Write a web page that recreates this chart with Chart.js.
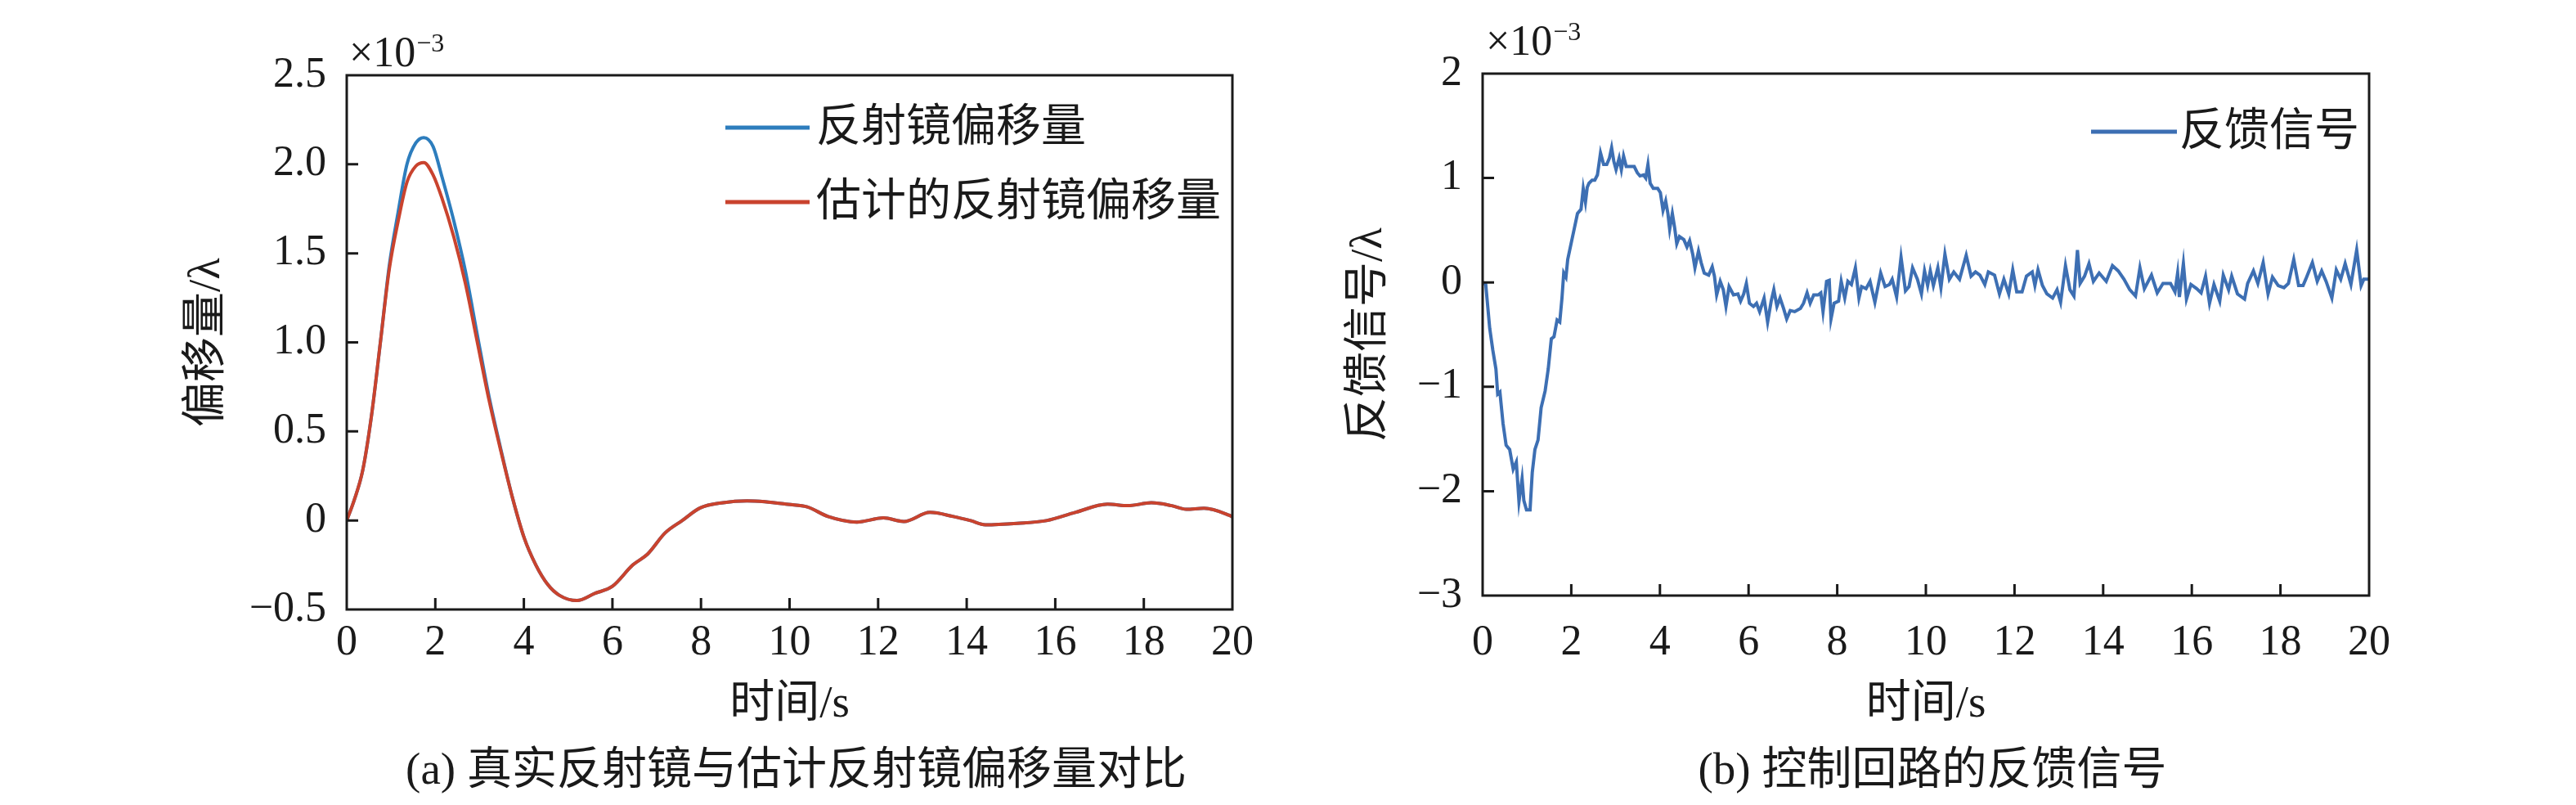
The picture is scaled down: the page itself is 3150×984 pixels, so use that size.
<!DOCTYPE html>
<html>
<head>
<meta charset="utf-8">
<script src="https://cdn.jsdelivr.net/npm/chart.js@4.4.1/dist/chart.umd.min.js"></script>
<style>
  html, body { margin: 0; padding: 0; background: #ffffff; }
  #wrap { position: relative; width: 3150px; height: 984px; overflow: hidden; background: #fff; }
  canvas { position: absolute; top: 0; }
  #c1 { left: 0; }
  #c2 { left: 1575px; }
</style>
</head>
<body>
<div id="wrap">
  <canvas id="c1" width="1575" height="984"></canvas>
  <canvas id="c2" width="1575" height="984"></canvas>
</div>
<script>
// ---------------- DATA (values in units of 1e-3) ----------------
const timeA = [0, 0.17, 0.36, 0.56, 0.76, 0.96, 1.16, 1.36, 1.56, 1.74, 1.95, 2.15, 2.42, 2.68, 2.95, 3.21, 3.48, 3.74, 4.01, 4.27, 4.54, 4.8, 5.2, 5.6, 6.0, 6.46, 6.79, 7.19, 7.58, 7.98, 8.5, 9.04, 9.44, 9.97, 10.4, 10.87, 11.52, 12.12, 12.58, 13.17, 13.7, 14.09, 14.42, 15.14, 15.8, 16.45, 17.18, 17.64, 18.17, 18.63, 18.96, 19.36, 19.92, 20];
const trueOffset = [0, 0.115, 0.28, 0.59, 1.0, 1.43, 1.73, 2.0, 2.12, 2.15, 2.10, 1.93, 1.68, 1.40, 1.04, 0.70, 0.40, 0.13, -0.10, -0.25, -0.36, -0.42, -0.45, -0.41, -0.37, -0.25, -0.19, -0.07, 0.0, 0.07, 0.10, 0.11, 0.105, 0.09, 0.076, 0.022, -0.009, 0.014, -0.006, 0.045, 0.022, -0.001, -0.024, -0.016, -0.001, 0.045, 0.091, 0.083, 0.099, 0.083, 0.063, 0.068, 0.03, 0.02];
const estOffset = [0, 0.115, 0.28, 0.59, 1.0, 1.41, 1.68, 1.9, 1.99, 2.01, 1.94, 1.81, 1.59, 1.33, 1.0, 0.68, 0.39, 0.13, -0.10, -0.25, -0.36, -0.42, -0.45, -0.41, -0.37, -0.25, -0.19, -0.07, 0.0, 0.07, 0.10, 0.11, 0.105, 0.09, 0.076, 0.022, -0.009, 0.014, -0.006, 0.045, 0.022, -0.001, -0.024, -0.016, -0.001, 0.045, 0.091, 0.083, 0.099, 0.083, 0.063, 0.068, 0.03, 0.02];

const timeB = [0, 0.07, 0.16, 0.23, 0.30, 0.34, 0.39, 0.46, 0.53, 0.61, 0.69, 0.76, 0.82, 0.89, 0.93, 0.99, 1.07, 1.12, 1.18, 1.25, 1.32, 1.41, 1.48, 1.55, 1.61, 1.68, 1.74, 1.79, 1.83, 1.88, 1.92, 2.01, 2.07, 2.14, 2.22, 2.27, 2.32, 2.36, 2.40, 2.47, 2.53, 2.59, 2.66, 2.73, 2.80, 2.86, 2.91, 2.96, 3.01, 3.08, 3.13, 3.18, 3.24, 3.32, 3.42, 3.49, 3.55, 3.63, 3.68, 3.73, 3.78, 3.85, 3.95, 4.01, 4.07, 4.13, 4.18, 4.22, 4.28, 4.33, 4.38, 4.44, 4.54, 4.61, 4.67, 4.74, 4.79, 4.87, 4.93, 5.00, 5.10, 5.18, 5.23, 5.28, 5.36, 5.43, 5.49, 5.56, 5.66, 5.76, 5.82, 5.89, 5.95, 6.02, 6.11, 6.18, 6.25, 6.35, 6.43, 6.51, 6.57, 6.64, 6.71, 6.79, 6.86, 6.94, 7.04, 7.17, 7.24, 7.32, 7.39, 7.47, 7.57, 7.63, 7.68, 7.76, 7.82, 7.86, 7.93, 8.03, 8.09, 8.17, 8.24, 8.32, 8.41, 8.49, 8.55, 8.65, 8.74, 8.85, 8.98, 9.08, 9.18, 9.24, 9.34, 9.44, 9.54, 9.62, 9.70,
  9.81, 9.90, 9.97, 10.04, 10.10, 10.17, 10.27, 10.34, 10.43, 10.53, 10.63, 10.76, 10.91, 11.02, 11.12, 11.22, 11.33, 11.41, 11.55, 11.66, 11.76, 11.87, 11.96, 12.05, 12.17, 12.27, 12.40, 12.46, 12.53, 12.63, 12.73, 12.86, 12.96, 13.04, 13.15, 13.25, 13.34, 13.42, 13.48, 13.58, 13.68, 13.78, 13.91, 14.07, 14.21, 14.34, 14.47, 14.60, 14.73, 14.83, 14.93, 15.09, 15.22, 15.35, 15.52, 15.62, 15.68, 15.72, 15.81, 15.88, 15.98, 16.11, 16.21, 16.31, 16.40, 16.50, 16.63, 16.71, 16.83, 16.90, 17.03, 17.19, 17.26, 17.39, 17.49, 17.61, 17.72, 17.82, 17.95, 18.08, 18.18, 18.30, 18.41, 18.51, 18.57, 18.72, 18.83, 18.93, 19.03, 19.16, 19.26, 19.36, 19.46, 19.59, 19.72, 19.82, 19.88, 20.0];
const feedback = [0, -0.02, -0.44, -0.65, -0.83, -1.07, -1.05, -1.35, -1.56, -1.60, -1.79, -1.72, -2.10, -1.88, -2.09, -2.18, -2.18, -1.82, -1.60, -1.51, -1.20, -1.04, -0.83, -0.54, -0.52, -0.36, -0.38, -0.15, 0.09, 0.05, 0.22, 0.40, 0.52, 0.66, 0.70, 0.90, 0.77, 0.91, 0.95, 0.98, 0.98, 1.03, 1.24, 1.13, 1.13, 1.19, 1.29, 1.16, 1.08, 1.19, 1.08, 1.21, 1.11, 1.11, 1.11, 1.05, 1.02, 1.03, 1.00, 1.13, 0.95, 0.90, 0.90, 0.86, 0.69, 0.78, 0.66, 0.51, 0.66, 0.53, 0.37, 0.44, 0.41, 0.34, 0.40, 0.27, 0.14, 0.30, 0.19, 0.09, 0.07, 0.15, 0.06, -0.12, 0.01, -0.07, -0.23, -0.04, -0.12, -0.11, -0.18, -0.11, -0.01, -0.20, -0.23, -0.20, -0.28, -0.15, -0.38, -0.18, -0.07, -0.23, -0.15, -0.25, -0.35, -0.27, -0.28, -0.25, -0.20, -0.10, -0.20, -0.12, -0.12, -0.10, -0.28, 0.01, 0.02, -0.35, -0.20, -0.18, 0.01, -0.15, 0.01, -0.02, 0.14, -0.15, -0.04, -0.06, 0.01, -0.19, 0.09, -0.04, -0.02, 0.03, -0.14, 0.24, -0.08, -0.04, 0.14,
  0.03, -0.11, 0.11, -0.03, 0.11, -0.03, 0.14, -0.05, 0.27, 0.03, 0.10, 0.03, 0.26, 0.06, 0.10, 0.07, -0.02, 0.10, 0.07, -0.11, 0.03, -0.11, 0.12, -0.09, -0.09, 0.06, 0.10, -0.03, 0.12, -0.03, -0.11, -0.15, -0.07, -0.19, 0.16, -0.07, -0.13, 0.31, -0.01, 0.06, 0.18, 0.01, 0.09, 0.01, 0.16, 0.11, 0.03, -0.07, -0.13, 0.14, -0.06, 0.07, -0.10, -0.01, -0.01, -0.09, 0.09, -0.14, 0.18, -0.16, -0.02, -0.06, -0.10, 0.06, -0.20, -0.02, -0.18, 0.07, -0.07, 0.06, -0.11, -0.16, -0.01, 0.11, -0.01, 0.19, -0.11, 0.05, -0.03, -0.05, -0.01, 0.22, -0.03, -0.03, 0.03, 0.19, 0.01, 0.11, 0.01, -0.15, 0.12, 0.03, 0.18, -0.02, 0.31, -0.03, 0.03, 0.03];

const xTicks = [0, 2, 4, 6, 8, 10, 12, 14, 16, 18, 20];
const yTicksA = [-0.5, 0, 0.5, 1, 1.5, 2, 2.5];
const yLabelsA = ['\u22120.5', '0', '0.5', '1.0', '1.5', '2.0', '2.5'];
const yTicksB = [-3, -2, -1, 0, 1, 2];
const yLabelsB = ['\u22123', '\u22122', '\u22121', '0', '1', '2'];

const seriesNamesA = ['反射镜偏移量', '估计的反射镜偏移量'];
const seriesNameB = '反馈信号';
const xTitle = '时间/s';
const yTitleA = '偏移量/λ';
const yTitleB = '反馈信号/λ';
const captionA = '(a) 真实反射镜与估计反射镜偏移量对比';
const captionB = '(b) 控制回路的反馈信号';
const expBase = '×10';
const expPower = '\u22123';

// ---------------- STYLE ----------------
const FONT = "'Liberation Serif', 'Noto Sans CJK SC', serif";
const INK = '#1a1a1a';
const H = 984;

const decor = {
  id: 'decor',
  afterDraw(chart, args, o) {
    const { ctx, chartArea: a, scales: { x, y } } = chart;
    ctx.save();
    ctx.strokeStyle = INK;
    ctx.lineWidth = 3;
    ctx.lineCap = 'butt';
    ctx.beginPath();
    o.xTicks.forEach(v => {
      if (v <= x.min || v >= x.max) return;
      const px = x.getPixelForValue(v);
      ctx.moveTo(px, a.bottom); ctx.lineTo(px, a.bottom - 14);
    });
    o.yTicks.forEach(v => {
      if (v <= y.min || v >= y.max) return;
      const py = y.getPixelForValue(v);
      ctx.moveTo(a.left, py); ctx.lineTo(a.left + 14, py);
    });
    ctx.stroke();
    ctx.strokeRect(a.left, a.top, a.right - a.left, a.bottom - a.top);

    // exponent label
    ctx.fillStyle = INK;
    ctx.textAlign = 'left';
    ctx.textBaseline = 'alphabetic';
    ctx.font = "52px " + FONT;
    ctx.fillText(o.exp[0], o.expPos[0], o.expPos[1]);
    const w = ctx.measureText(o.exp[0]).width;
    ctx.font = "32px " + FONT;
    ctx.fillText(o.exp[1], o.expPos[0] + w + 1, o.expPos[1] - 18);

    // legend
    ctx.font = "55px " + FONT;
    ctx.textBaseline = 'middle';
    chart.data.datasets.forEach((ds, i) => {
      const ly = o.legend.y[i];
      ctx.strokeStyle = ds.borderColor;
      ctx.lineWidth = 5;
      ctx.beginPath();
      ctx.moveTo(o.legend.x1, ly); ctx.lineTo(o.legend.x2, ly);
      ctx.stroke();
      ctx.fillStyle = INK;
      ctx.fillText(ds.label, o.legend.tx, ly + 2);
    });

    // caption
    ctx.font = "55px " + FONT;
    ctx.textAlign = 'center';
    ctx.textBaseline = 'middle';
    ctx.fillStyle = INK;
    ctx.fillText(o.caption, (a.left + a.right) / 2 + 8, o.captionY);
    ctx.restore();
  }
};

function makeScales(cfg) {
  return {
    x: {
      type: 'linear', min: 0, max: 20,
      afterBuildTicks: s => { s.ticks = cfg.xTicks.map(v => ({ value: v })); },
      ticks: {
        autoSkip: false, maxRotation: 0, minRotation: 0,
        color: INK, padding: cfg.xPad,
        font: { family: FONT, size: 52 },
        callback: v => String(v)
      },
      grid: { display: false, drawTicks: false },
      border: { display: false },
      title: {
        display: true, text: xTitle, color: INK,
        font: { family: FONT, size: 55, lineHeight: 1.2 },
        padding: { top: 0, bottom: 89 }
      },
      afterFit: s => { s.height = H - cfg.bottom; }
    },
    y: {
      type: 'linear', min: cfg.yTicks[0], max: cfg.yTicks[cfg.yTicks.length - 1],
      afterBuildTicks: s => { s.ticks = cfg.yTicks.map(v => ({ value: v })); },
      ticks: {
        autoSkip: false, color: INK, padding: 25,
        font: { family: FONT, size: 52 },
        callback: v => { const i = cfg.yTicks.findIndex(t => Math.abs(t - v) < 1e-9); return i >= 0 ? cfg.yLabels[i] : ''; }
      },
      grid: { display: false, drawTicks: false },
      border: { display: false },
      title: {
        display: true, text: cfg.yTitle, color: INK,
        font: { family: FONT, size: 55, lineHeight: 1.2 },
        padding: { top: cfg.yTitlePad, bottom: 0 }
      },
      afterFit: s => { s.width = cfg.left; }
    }
  };
}

const pts = (xs, ys) => xs.map((t, i) => ({ x: t, y: ys[i] }));

// ---------------- CHART A ----------------
new Chart(document.getElementById('c1'), {
  type: 'line',
  data: {
    datasets: [
      { label: seriesNamesA[0], data: pts(timeA, trueOffset), borderColor: '#2d7dbd', borderWidth: 4, pointRadius: 0, cubicInterpolationMode: 'monotone', tension: 0.4, order: 1 },
      { label: seriesNamesA[1], data: pts(timeA, estOffset), borderColor: '#c9432e', borderWidth: 4, pointRadius: 0, cubicInterpolationMode: 'monotone', tension: 0.4, order: 0 }
    ]
  },
  options: {
    responsive: false, animation: false, devicePixelRatio: 1,
    layout: { padding: { left: 0, top: 92, right: 68, bottom: 0 } },
    scales: makeScales({ xTicks, yTicks: yTicksA, yLabels: yLabelsA, yTitle: yTitleA, yTitlePad: 221, left: 424, bottom: 745, xPad: 10 }),
    plugins: {
      legend: { display: false }, tooltip: { enabled: false }, title: { display: false },
      decor: {
        xTicks, yTicks: yTicksA, exp: [expBase, expPower], expPos: [427, 81],
        legend: { x1: 887, x2: 990, tx: 998, y: [156, 247] },
        caption: captionA, captionY: 944
      }
    }
  },
  plugins: [decor]
});

// ---------------- CHART B ----------------
new Chart(document.getElementById('c2'), {
  type: 'line',
  data: {
    datasets: [
      { label: seriesNameB, data: pts(timeB, feedback), borderColor: '#3d6fb3', borderWidth: 4, pointRadius: 0, tension: 0 }
    ]
  },
  options: {
    responsive: false, animation: false, devicePixelRatio: 1,
    layout: { padding: { left: 0, top: 90, right: 253, bottom: 0 } },
    scales: makeScales({ xTicks, yTicks: yTicksB, yLabels: yLabelsB, yTitle: yTitleB, yTitlePad: 67, left: 238, bottom: 728, xPad: 27 }),
    plugins: {
      legend: { display: false }, tooltip: { enabled: false }, title: { display: false },
      decor: {
        xTicks, yTicks: yTicksB, exp: [expBase, expPower], expPos: [242, 67],
        legend: { x1: 982, x2: 1087, tx: 1090, y: [161] },
        caption: captionB, captionY: 944
      }
    }
  },
  plugins: [decor]
});
</script>
</body>
</html>
